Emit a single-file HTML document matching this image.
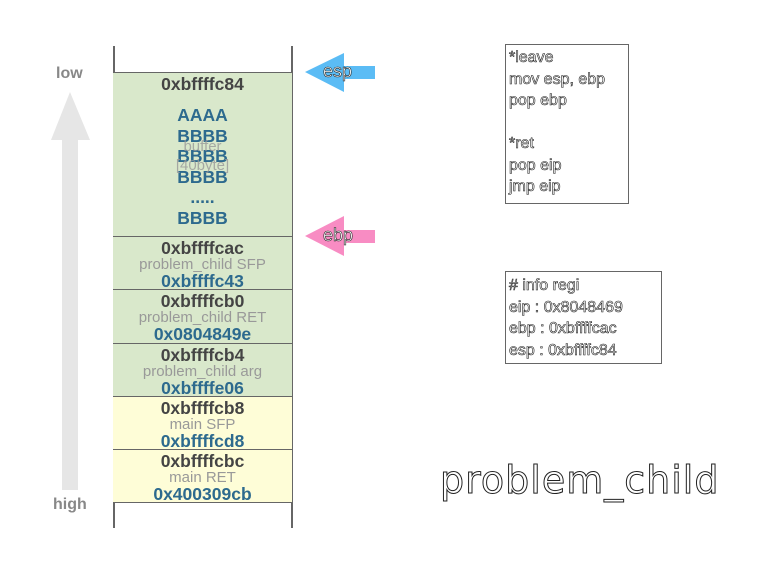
<!DOCTYPE html>
<html><head><style>
body{margin:0;width:767px;height:575px;background:#fff;position:relative;font-family:"Liberation Sans",sans-serif;overflow:hidden}
.a{position:absolute}
.row{position:absolute;left:113px;width:179px;border-top:1.5px solid #666;text-align:center;box-sizing:border-box}
.g{background:#d9e8cb}.y{background:#fefdd7}
.ad{font-weight:bold;color:#444;font-size:17.5px;line-height:17px}
.lb{color:#999;font-size:15px;line-height:16px}
.v{font-weight:bold;color:#2d6a8e;font-size:17.5px;line-height:17px}
.box{position:absolute;border:1px solid #666;font-size:16px;line-height:21.5px;color:#fff;-webkit-text-stroke:0.6px #222;padding:2px 3px;box-sizing:border-box}
</style></head><body>
<div class="a" style="left:113px;top:46px;width:1.5px;height:482px;background:#666"></div>
<div class="a" style="left:291px;top:46px;width:1.5px;height:482px;background:#666"></div>
<div class="row g" style="top:72px;height:165px"><div class="ad" style="margin-top:3px">0xbffffc84</div>
<div class="v" style="margin-top:12px;line-height:20.5px">AAAA<br>BBBB<br>BBBB<br>BBBB<br>.....<br>BBBB</div>
<div class="lb a" style="left:0;width:179px;top:64px;line-height:19px;opacity:.8">buffer<br>[40byte]</div></div>
<div class="row g" style="top:236px;height:54px"><div class="ad" style="margin-top:3px">0xbffffcac</div><div class="lb">problem_child SFP</div><div class="v">0xbffffc43</div></div>
<div class="row g" style="top:289px;height:54px"><div class="ad" style="margin-top:3px">0xbffffcb0</div><div class="lb">problem_child RET</div><div class="v">0x0804849e</div></div>
<div class="row g" style="top:343px;height:54px"><div class="ad" style="margin-top:3px">0xbffffcb4</div><div class="lb">problem_child arg</div><div class="v">0xbffffe06</div></div>
<div class="row y" style="top:396px;height:54px"><div class="ad" style="margin-top:3px">0xbffffcb8</div><div class="lb">main SFP</div><div class="v">0xbffffcd8</div></div>
<div class="row y" style="top:449px;height:54px"><div class="ad" style="margin-top:3px">0xbffffcbc</div><div class="lb">main RET</div><div class="v">0x400309cb</div></div>
<div class="row" style="top:502px;height:1px"></div>
<svg class="a" style="left:0;top:0" width="767" height="575">
<polygon points="70,92 90,140 78,140 78,490 62,490 62,140 51,140" fill="#e6e6e6"/>
<polygon points="305,72 344,53 344,66 375,66 375,79 344,79 344,92" fill="#5bbcf5"/>
<polygon points="305,236 344,216 344,230 375,230 375,243 344,243 344,256" fill="#f88cc3"/>
</svg>
<div class="a" style="left:56px;top:65px;font-size:16px;font-weight:bold;color:#888">low</div>
<div class="a" style="left:53px;top:496px;font-size:16px;font-weight:bold;color:#888">high</div>
<div class="a" style="left:323px;top:61px;font-size:18px;color:#fff;-webkit-text-stroke:0.6px #222">esp</div>
<div class="a" style="left:323px;top:225px;font-size:18px;color:#fff;-webkit-text-stroke:0.6px #222">ebp</div>
<div class="box" style="left:505px;top:44px;width:124px;height:160px">*leave<br>mov esp, ebp<br>pop ebp<br><br>*ret<br>pop eip<br>jmp eip</div>
<div class="box" style="left:505px;top:271px;width:157px;height:93px;line-height:21.5px;padding-top:3px"># info regi<br>eip : 0x8048469<br>ebp : 0xbffffcac<br>esp : 0xbffffc84</div>
<div class="a" style="left:440px;top:458px;font-size:38px;letter-spacing:1px;color:#fff;-webkit-text-stroke:1px #222;font-family:'DejaVu Sans',sans-serif">problem_child</div>
</body></html>
